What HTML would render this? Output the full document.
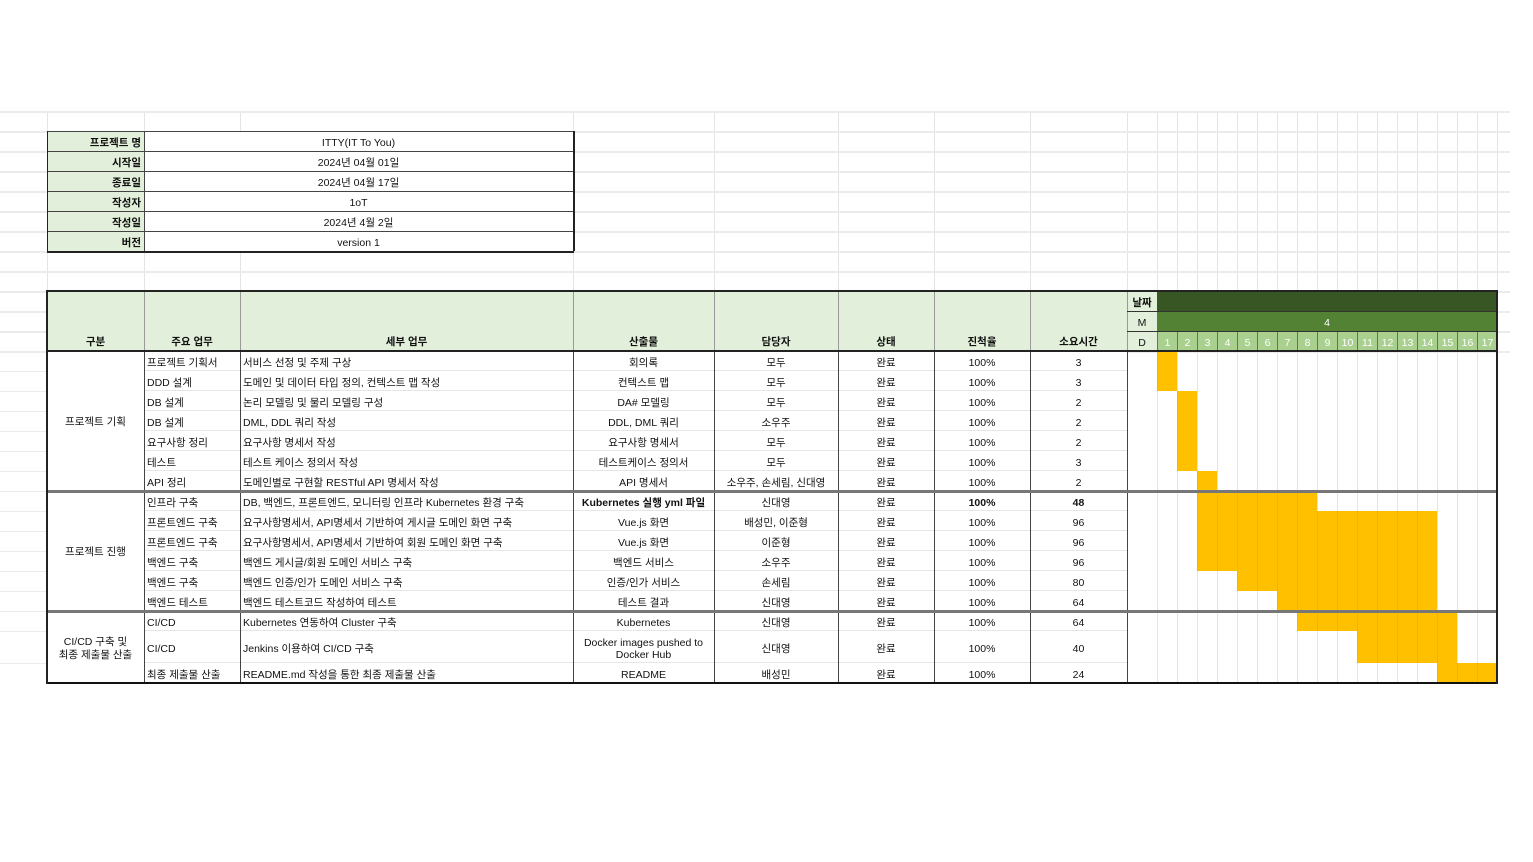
<!DOCTYPE html>
<html><head><meta charset="utf-8">
<style>
body{margin:0;background:#fff;width:1533px;height:862px;overflow:hidden;position:relative;font-family:"Liberation Sans","Noto Sans CJK KR",sans-serif;font-size:10.5px;color:#111}
.c{position:absolute;box-sizing:border-box;display:flex;align-items:center;justify-content:center;white-space:nowrap;overflow:hidden;line-height:12px;text-align:center;padding-top:3px;background:#fff}
.l{justify-content:flex-start;padding-left:3px}
.r{justify-content:flex-end;padding-right:3px}
.b{font-weight:bold}
</style></head><body>
<div id="root"></div>
<script>
const days=[1,2,3,4,5,6,7,8,9,10,11,12,13,14,15,16,17];
const groups=["프로젝트 기획","프로젝트 진행","CI/CD 구축 및<br>최종 제출물 산출"];
const groupSpans=[7,6,3];
const mainTasks=["프로젝트 기획서","DDD 설계","DB 설계","DB 설계","요구사항 정리","테스트","API 정리","인프라 구축","프론트엔드 구축","프론트엔드 구축","백엔드 구축","백엔드 구축","백엔드 테스트","CI/CD","CI/CD","최종 제출물 산출"];
const details=["서비스 선정 및 주제 구상","도메인 및 데이터 타입 정의, 컨텍스트 맵 작성","논리 모델링 및 물리 모델링 구성","DML, DDL 쿼리 작성","요구사항 명세서 작성","테스트 케이스 정의서 작성","도메인별로 구현할 RESTful API 명세서 작성","DB, 백엔드, 프론트엔드, 모니터링 인프라 Kubernetes 환경 구축","요구사항명세서, API명세서 기반하여 게시글 도메인 화면 구축","요구사항명세서, API명세서 기반하여 회원 도메인 화면 구축","백엔드 게시글/회원 도메인 서비스 구축","백엔드 인증/인가 도메인 서비스 구축","백엔드 테스트코드 작성하여 테스트","Kubernetes 연동하여 Cluster 구축","Jenkins 이용하여 CI/CD 구축","README.md 작성을 통한 최종 제출물 산출"];
const outputs=["회의록","컨텍스트 맵","DA# 모델링","DDL, DML 쿼리","요구사항 명세서","테스트케이스 정의서","API 명세서","Kubernetes 실행 yml 파일","Vue.js 화면","Vue.js 화면","백엔드 서비스","인증/인가 서비스","테스트 결과","Kubernetes","Docker images pushed to<br>Docker Hub","README"];
const owners=["모두","모두","모두","소우주","모두","모두","소우주, 손세림, 신대영","신대영","배성민, 이준형","이준형","소우주","손세림","신대영","신대영","신대영","배성민"];
const statuses=["완료","완료","완료","완료","완료","완료","완료","완료","완료","완료","완료","완료","완료","완료","완료","완료"];
const progress=["100%","100%","100%","100%","100%","100%","100%","100%","100%","100%","100%","100%","100%","100%","100%","100%"];
const hours=[3,3,2,2,2,3,2,48,96,96,96,80,64,64,40,24];
const startDay=[1,1,2,2,2,2,3,3,3,3,3,5,7,8,11,15];
const endDay=[1,1,2,2,2,2,3,8,14,14,14,14,14,15,15,17];
const infoLabels=["프로젝트 명","시작일","종료일","작성자","작성일","버전"];
const infoValues=["ITTY(IT To You)","2024년 04월 01일","2024년 04월 17일","1oT","2024년 4월 2일","version 1"];

const root=document.getElementById('root');
const colX=[47,144,240,573,714,838,934,1030,1127,1157];
const dayW=20;
function xDay(d){return 1157+(d-1)*dayW;}
const rowH=[20,20,20,20,20,20,20,20,20,20,20,20,20,20,32,20];
const rowY=[];let yy=351;for(const h of rowH){rowY.push(yy);yy+=h;}
function cell(x,y,w,h,html,cls,name,style){const e=document.createElement('div');e.className='c '+(cls||'');e.style.cssText=`left:${x}px;top:${y}px;width:${w}px;height:${h}px;`+(style||'');e.innerHTML=html;


root.appendChild(e);return e;}
function line(x,y,w,h,c,name){const e=document.createElement('div');e.style.cssText=`position:absolute;left:${x}px;top:${y}px;width:${w}px;height:${h}px;background:${c}`;


root.appendChild(e);}
// background grid
const gx=[47,144,240,573,714,838,934,1030,1127];for(const d of days)gx.push(xDay(d));gx.push(1497);
for(const x of gx)line(x,111,1,572,'#e4e4e4','grid-col');
for(let y=111;y<=351;y+=20)line(0,y,1510,2,'#ebebeb','grid-row');
rowY.forEach(y=>line(0,y,47,1,'#ebebeb','grid-row'));
// info table
infoLabels.forEach((t,i)=>{const y=131+i*20;
cell(47,y,97,20,t,'r b','info-label','background:#e2efda;');
cell(144,y,429,20,infoValues[i],'','info-value');
line(47,y,526,1,'#444','info-border');});
line(47,251,527,1.5,'#222','info-border');line(47,131,1,120,'#222','info-border');line(144,131,1,120,'#444','info-border');line(573,131,1.5,120,'#222','info-border');
// header
const heads=["구분","주요 업무","세부 업무","산출물","담당자","상태","진척율","소요시간"];
heads.forEach((t,i)=>{cell(colX[i],291,colX[i+1]-colX[i],60,t,'b','header-'+i,'background:#e2efda;align-items:flex-end;padding-bottom:3px;');});
cell(1127,291,30,20,'날짜','b','date-label','background:#e2efda;');
cell(1127,311,30,20,'M','','month-label','background:#e2efda;');
cell(1127,331,30,20,'D','','day-label','background:#e2efda;');
cell(1157,291,340,20,'','','header-band','background:#375623;');
cell(1157,311,340,20,'4','','month-4','background:#548235;color:#fff;');
days.forEach(d=>{cell(xDay(d),331,dayW,20,String(d),'','day-'+d,'background:#a9d08e;color:#fff;border-left:1px solid #548235;');});
for(let i=1;i<9;i++)line(colX[i],291,1,60,'#999','header-divider');
line(1127,311,370,1,'#333','header-divider');line(1127,331,370,1,'#333','header-divider');
// body
let acc=0;
groupSpans.forEach((s,k)=>{const y0=rowY[acc],y1=rowY[acc+s-1]+rowH[acc+s-1];
cell(47,y0,97,y1-y0,groups[k],'','group-'+k,'line-height:13px;white-space:normal;');acc+=s;});
mainTasks.forEach((t,i)=>{const y=rowY[i],h=rowH[i];
cell(144,y,96,h,t,'l','main-task');
cell(240,y,333,h,details[i],'l','detail-task');
cell(573,y,141,h,outputs[i],'','output',i==7?'font-weight:bold;':'');
cell(714,y,124,h,owners[i],'','owner');
cell(838,y,96,h,statuses[i],'','status');
cell(934,y,96,h,progress[i],'','progress',i==7?'font-weight:bold;':'');
cell(1030,y,97,h,String(hours[i]),'','hours',i==7?'font-weight:bold;':'');
line(144,y+h-1,983,1,'#e6e6e6','row-line');
const b=document.createElement('div');
b.style.cssText=`position:absolute;left:${xDay(startDay[i])}px;top:${y}px;width:${(endDay[i]-startDay[i]+1)*dayW}px;height:${h}px;background:#ffc000;background-image:linear-gradient(90deg,rgba(0,0,0,.06) 1px,transparent 1px);background-size:${dayW}px ${h}px;box-sizing:border-box;`;


root.appendChild(b);});
for(let i=1;i<9;i++)line(colX[i],351,1,332,'#444','col-divider');
// outer borders
line(47,290,1451,2,'#222','border');line(47,350,1451,2,'#222','border');
line(47,490,1451,3,'#777','group-border');line(47,610,1451,3,'#777','group-border');
line(47,682,1451,2,'#111','border');
line(46,290,2,394,'#222','border');line(1496,290,2,394,'#222','border');
</script>
</body></html>
